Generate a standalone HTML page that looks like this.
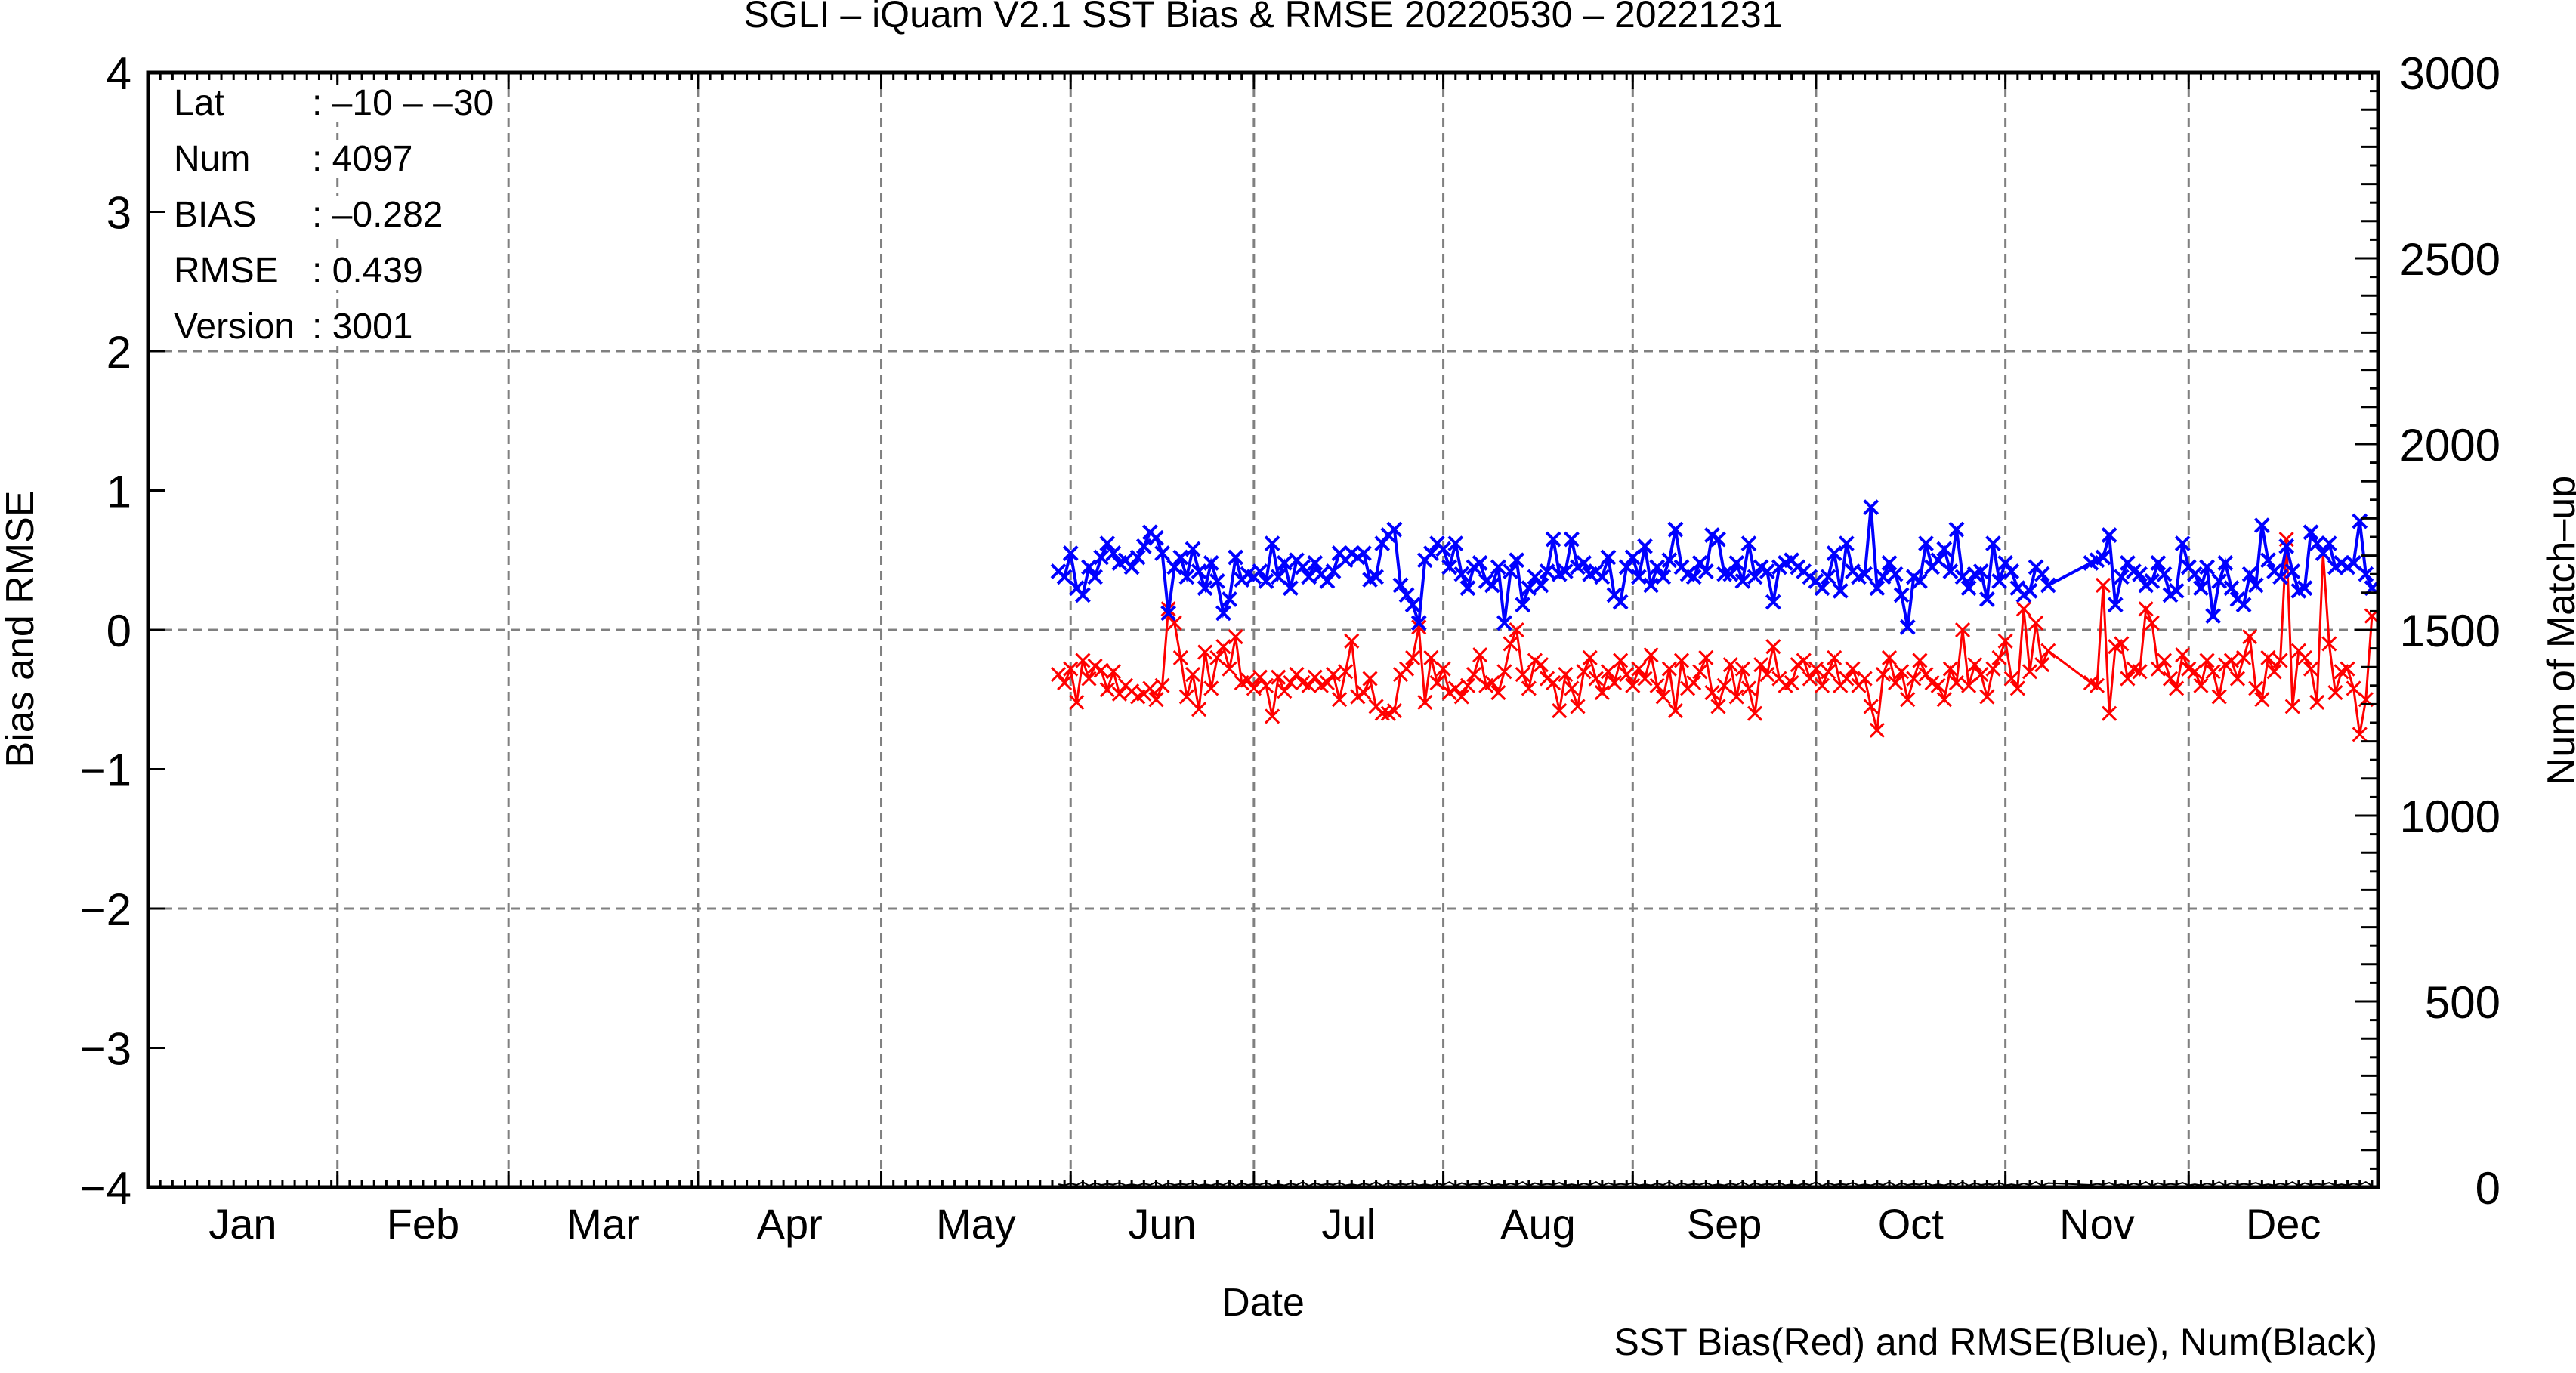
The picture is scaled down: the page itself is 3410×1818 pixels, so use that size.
<!DOCTYPE html>
<html><head><meta charset="utf-8"><style>
html,body{margin:0;padding:0;background:#fff;}
svg text{font-family:"Liberation Sans",sans-serif;fill:#000;}
</style></head><body>
<svg id="chart" xmlns="http://www.w3.org/2000/svg" width="3410" height="1813" viewBox="0 0 3410 1813">
<rect x="0" y="0" width="3410" height="1813" fill="#fff"/>
<text x="1672" y="36" font-size="50" text-anchor="middle">SGLI – iQuam V2.1 SST Bias &amp; RMSE 20220530 – 20221231</text>
<g id="grid"></g>
<g id="series"></g>
<g id="axes"></g>
<g id="info">
<rect x="222" y="112" width="440" height="50" fill="#fff"/>
<rect x="222" y="186" width="340" height="50" fill="#fff"/>
<rect x="222" y="260" width="380" height="50" fill="#fff"/>
<rect x="222" y="334" width="360" height="50" fill="#fff"/>
<rect x="222" y="408" width="340" height="50" fill="#fff"/>
<text x="230" y="152" font-size="48">Lat</text>
<text x="413" y="152" font-size="48">: –10 – –30</text>
<text x="230" y="226" font-size="48">Num</text>
<text x="413" y="226" font-size="48">: 4097</text>
<text x="230" y="300" font-size="48">BIAS</text>
<text x="413" y="300" font-size="48">: –0.282</text>
<text x="230" y="374" font-size="48">RMSE</text>
<text x="413" y="374" font-size="48">: 0.439</text>
<text x="230" y="448" font-size="48">Version</text>
<text x="413" y="448" font-size="48">: 3001</text>
</g>
<text transform="translate(44,833) rotate(-90)" font-size="52" text-anchor="middle">Bias and RMSE</text>
<text transform="translate(3408,835) rotate(-90)" font-size="52" text-anchor="middle">Num of Match–up</text>
<text x="1672" y="1742" font-size="52" text-anchor="middle">Date</text>
<text x="3147" y="1794" font-size="50" text-anchor="end">SST Bias(Red) and RMSE(Blue), Num(Black)</text>
</svg>
<script>
const yTicks = [-4,-3,-2,-1,0,1,2,3,4];
const y2Ticks = [0,500,1000,1500,2000,2500,3000];
const months = ["Jan","Feb","Mar","Apr","May","Jun","Jul","Aug","Sep","Oct","Nov","Dec"];
const monthStarts = [0,31,59,90,120,151,181,212,243,273,304,334,365];
const days = [];
for (let d = 149; d <= 364; d++) { if (d < 312 || d > 317) days.push(d); }
const rmse = [.42,.38,.55,.3,.25,.45,.38,.52,.62,.55,
.48,.50,.45,.52,.60,.70,.66,.55,.12,.45,
.52,.38,.58,.42,.30,.48,.35,.12,.22,.52,
.36,.40,.38,.42,.35,.62,.38,.48,.30,.50,
.45,.38,.48,.40,.35,.42,.55,.50,.55,.52,
.55,.36,.38,.62,.68,.72,.32,.25,.18,.05,
.50,.55,.62,.58,.45,.62,.40,.30,.45,.48,
.35,.32,.45,.05,.42,.50,.18,.30,.38,.32,
.42,.65,.40,.42,.65,.45,.48,.40,.42,.38,
.52,.25,.20,.45,.52,.38,.60,.32,.45,.38,
.50,.72,.45,.40,.38,.48,.42,.68,.65,.40,
.40,.48,.35,.62,.38,.45,.42,.20,.45,.48,
.50,.45,.42,.38,.35,.30,.38,.55,.28,.62,
.42,.38,.40,.88,.30,.38,.48,.40,.25,.02,
.38,.35,.62,.45,.50,.58,.42,.72,.38,.30,
.40,.42,.22,.62,.35,.48,.42,.30,.25,.28,
.45,.40,.32,
.48,.50,.52,.68,.18,.38,.48,.42,.40,.32,.35,
.48,.40,.25,.28,.62,.45,.40,.30,.45,
.10,.35,.48,.30,.22,.18,.40,.32,.75,.50,
.42,.38,.60,.42,.28,.30,.70,.62,.55,.62,
.45,.48,.45,.48,.78,.40,.30];
const bias = [-.32,-.38,-.28,-.52,-.22,-.35,-.26,-.29,-.43,-.30,
-.46,-.40,-.44,-.48,-.46,-.42,-.50,-.40,.15,.05,
-.20,-.48,-.32,-.57,-.16,-.42,-.20,-.12,-.28,-.05,
-.38,-.36,-.42,-.34,-.40,-.62,-.34,-.44,-.38,-.32,
-.38,-.40,-.34,-.40,-.38,-.32,-.50,-.30,-.08,-.48,
-.45,-.35,-.55,-.60,-.60,-.58,-.32,-.28,-.20,.02,
-.52,-.20,-.38,-.28,-.45,-.42,-.48,-.40,-.32,-.18,
-.40,-.38,-.45,-.30,-.10,.00,-.32,-.42,-.22,-.25,
-.35,-.38,-.58,-.32,-.42,-.55,-.30,-.20,-.35,-.45,
-.30,-.38,-.22,-.32,-.40,-.28,-.35,-.18,-.40,-.48,
-.28,-.58,-.22,-.42,-.38,-.30,-.20,-.45,-.55,-.40,
-.25,-.48,-.28,-.42,-.60,-.25,-.32,-.12,-.35,-.40,
-.38,-.25,-.22,-.35,-.28,-.40,-.30,-.20,-.40,-.35,
-.28,-.40,-.35,-.55,-.72,-.32,-.20,-.38,-.30,-.50,
-.35,-.22,-.32,-.38,-.40,-.50,-.28,-.38,.00,-.40,
-.25,-.32,-.48,-.28,-.20,-.08,-.35,-.42,.15,-.30,
.05,-.25,-.15,
-.38,-.40,.32,-.60,-.12,-.10,-.35,-.28,-.30,.15,.05,
-.28,-.22,-.35,-.42,-.18,-.28,-.30,-.40,-.22,
-.30,-.48,-.25,-.22,-.35,-.20,-.05,-.42,-.50,-.20,
-.30,-.22,.65,-.55,-.15,-.20,-.28,-.52,.55,-.10,
-.45,-.30,-.28,-.42,-.75,-.50,.10];
const numPattern = [8,5,10,6,14,4,11,6,9,7,12,5];
const num = days.map((d,i)=>numPattern[i%12]);

const NS="http://www.w3.org/2000/svg";
const L=196,R=3148,T=96,B=1572;
function xS(d){return L+(d/365)*(R-L);}
function yS(v){return B-(v+4)/8*(B-T);}
function y2S(v){return B-v/3000*(B-T);}
function mk(tag,attrs,parent){const e=document.createElementNS(NS,tag);for(const k in attrs)e.setAttribute(k,attrs[k]);parent.appendChild(e);return e;}
const grid=document.getElementById('grid'),axes=document.getElementById('axes'),series=document.getElementById('series');
[-2,0,2].forEach(v=>{
  const ln=mk('line',{x1:L,x2:R,y1:yS(v),y2:yS(v),stroke:'#808080','stroke-width':3,'stroke-dasharray':'12,8'},grid);
  
  
});
monthStarts.slice(1,12).forEach(d=>{
  const ln=mk('line',{x1:xS(d),x2:xS(d),y1:T,y2:B,stroke:'#808080','stroke-width':3,'stroke-dasharray':'12,8'},grid);
  
  
});
function drawSeries(vals,ys,color,w,name,markers){
  const pts=days.map((d,i)=>xS(d).toFixed(1)+','+ys(vals[i]).toFixed(1)).join(' ');
  const pl=mk('polyline',{points:pts,fill:'none',stroke:color,'stroke-width':w,'stroke-linejoin':'miter'},series);
  
  
  if(!markers)return;
  days.forEach((d,i)=>{
    const x=xS(d),y=ys(vals[i]),s=9;
    const p=mk('path',{d:`M${x-s},${y-s}L${x+s},${y+s}M${x-s},${y+s}L${x+s},${y-s}`,stroke:color,'stroke-width':w},series);
    
    
  });
}
drawSeries(bias,yS,'#ff0000',3,'bias',true);
drawSeries(rmse,yS,'#0000ff',4,'rmse',true);
drawSeries(num,y2S,'#000000',2,'num',false);
const fr=mk('rect',{x:L,y:T,width:R-L,height:B-T,fill:'none',stroke:'#000','stroke-width':5},axes);


yTicks.forEach(v=>{
  const y=yS(v);
  const t=mk('line',{x1:L,x2:L+22,y1:y,y2:y,stroke:'#000','stroke-width':3},axes);
  
  
  const tx=mk('text',{x:174,y:y+22,'font-size':60,'text-anchor':'end'},axes);
  tx.textContent=(v<0?'−':'')+Math.abs(v);
  
  
});
for(let v=0;v<=3000;v+=50){
  const y=y2S(v);const len=v%500===0?30:(v%100===0?22:11);
  const t=mk('line',{x1:R-len,x2:R,y1:y,y2:y,stroke:'#000','stroke-width':3},axes);
  
  
}
y2Ticks.forEach(v=>{
  const tx=mk('text',{x:3310,y:y2S(v)+22,'font-size':60,'text-anchor':'end'},axes);
  tx.textContent=v;
  
  
});
for(let m=0;m<12;m++){
  const s=monthStarts[m],e=monthStarts[m+1];
  for(let d=s;d<e;d+=2){
    const x=xS(d),len=(d===s&&m>0)?22:10;
    const a=mk('line',{x1:x,x2:x,y1:B,y2:B-len,stroke:'#000','stroke-width':3},axes);
    
    
    const b=mk('line',{x1:x,x2:x,y1:T,y2:T+len,stroke:'#000','stroke-width':3},axes);
    
    
  }
  const tx=mk('text',{x:xS((s+e)/2),y:1640,'font-size':56,'text-anchor':'middle'},axes);
  tx.textContent=months[m];
  
  
}
</script>
</body></html>
